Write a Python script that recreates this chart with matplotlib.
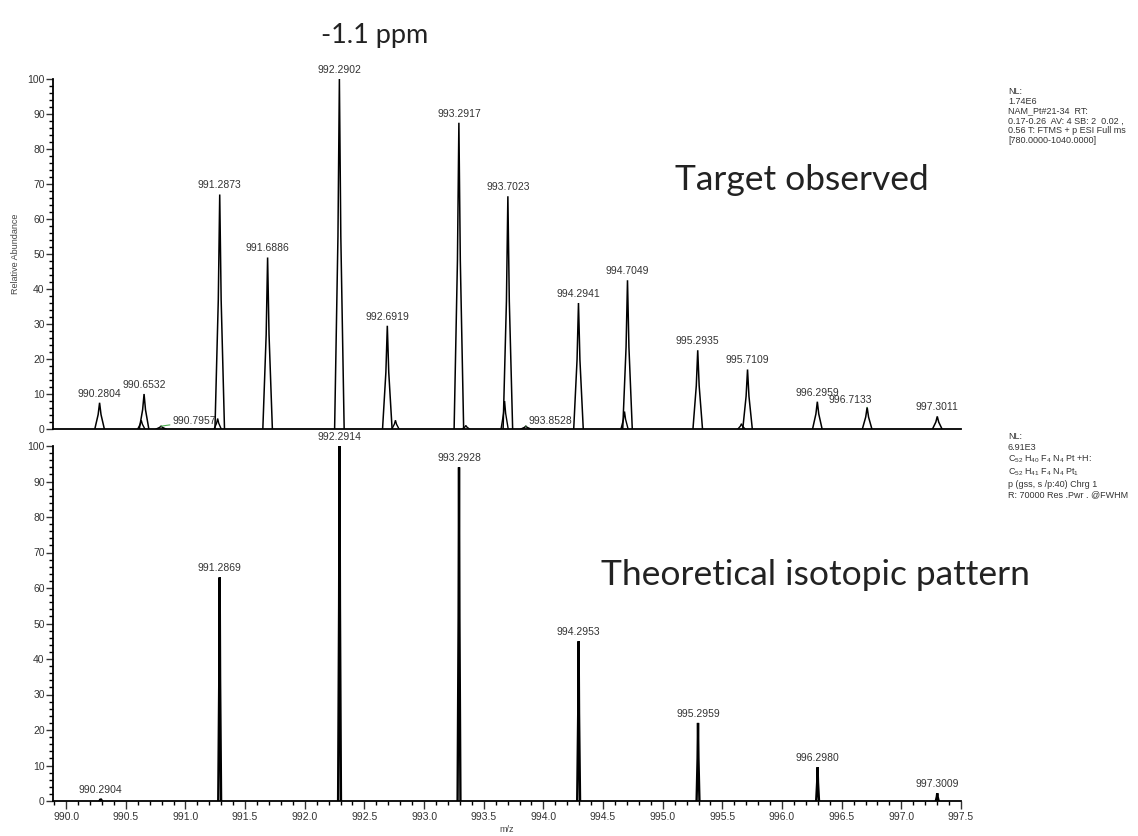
import numpy as np
import matplotlib
matplotlib.use("Agg")
import matplotlib.pyplot as plt
from matplotlib.ticker import MultipleLocator, FormatStrFormatter

plt.rcParams["font.family"] = ["Liberation Sans", "DejaVu Sans"]
plt.rcParams["mathtext.fontset"] = "custom"
plt.rcParams["mathtext.rm"] = "Liberation Sans"

# observed spectrum (labelled centroids)
obs_mz = [990.2804, 990.6532, 990.7957, 991.2873, 991.6886, 992.2902, 992.6919,
          993.2917, 993.7023, 993.8528, 994.2941, 994.7049, 995.2935, 995.7109,
          996.2959, 996.7133, 997.3011]
obs_int = [7.5, 10, 0.8, 67, 49, 100, 29.5, 87.5, 66.5, 0.8, 36, 42.5, 22.5, 17,
           7.8, 6.2, 3.6]
# unlabelled shoulders / small bumps in the observed trace
obs_minor_mz = [990.63, 991.27, 992.76, 993.35, 993.675, 994.68, 995.66]
obs_minor_int = [2.5, 3, 2.5, 1, 8, 5, 1.5]

# theoretical isotopic pattern
th_mz = [990.2904, 991.2869, 992.2914, 993.2928, 994.2953, 995.2959, 996.2980, 997.3009]
th_int = [0.6, 63, 100, 94, 45, 22, 9.5, 2.2]

top_note = ["NL:", "1.74E6", "NAM_Pt#21-34  RT:", "0.17-0.26  AV: 4 SB: 2  0.02 ,",
            "0.56 T: FTMS + p ESI Full ms", "[780.0000-1040.0000]"]
bot_note = ["NL:", "6.91E3",
            r"C$_{52}$ H$_{40}$ F$_{4}$ N$_{4}$ Pt +H:",
            r"C$_{52}$ H$_{41}$ F$_{4}$ N$_{4}$ Pt$_{1}$",
            "p (gss, s /p:40) Chrg 1",
            "R: 70000 Res .Pwr . @FWHM"]

# label nudges (points) for crowded tiny peaks, drawn with a green leader
nudge = {990.7957: (24, 0), 993.8528: (18, 0), 996.7133: (-12, 2)}

W, H = 1138, 836
fig = plt.figure(figsize=(W / 100, H / 100), dpi=100)
left, width = 53 / W, 908 / W
ax1 = fig.add_axes([left, 1 - 429 / H, width, 350 / H])
ax2 = fig.add_axes([left, 1 - 801 / H, width, 355 / H])


def peak(ax, m, h, hw, lw):
    ax.plot([m - hw, m - hw * 0.3, m, m + hw * 0.3, m + hw], [0, h * 0.55, h, h * 0.55, 0],
            color="black", lw=lw, solid_joinstyle="miter")


for m, h in zip(obs_minor_mz, obs_minor_int):
    peak(ax1, m, h, 0.03, 1.0)
for m, h in zip(obs_mz, obs_int):
    peak(ax1, m, h, 0.04, 1.1)
    if m in nudge:
        ax1.annotate(f"{m:.4f}", (m, h), xytext=nudge[m], textcoords="offset points",
                     ha="center", va="bottom", fontsize=7.5, color="#333333",
                     arrowprops=dict(arrowstyle="-", color="#4caf50", lw=0.8,
                                     shrinkA=0, shrinkB=0))
    else:
        ax1.annotate(f"{m:.4f}", (m, h), xytext=(0, 3), textcoords="offset points",
                     ha="center", va="bottom", fontsize=7.5, color="#333333")

for m, h in zip(th_mz, th_int):
    peak(ax2, m, h, 0.012, 1.7)
    ax2.annotate(f"{m:.4f}", (m, h), xytext=(0, 3), textcoords="offset points",
                 ha="center", va="bottom", fontsize=7.5, color="#333333")

for ax in (ax1, ax2):
    ax.set_xlim(989.89, 997.5)
    ax.set_ylim(0, 100)
    for s in ("top", "right"):
        ax.spines[s].set_visible(False)
    for s in ("left", "bottom"):
        ax.spines[s].set_linewidth(1.3)
    ax.yaxis.set_major_locator(MultipleLocator(10))
    ax.yaxis.set_minor_locator(MultipleLocator(2))
    ax.tick_params(axis="y", which="major", length=5, width=1, labelsize=7.5,
                   pad=1, colors="#333333")
    ax.tick_params(axis="y", which="minor", length=3, width=1)
    ax.patch.set_alpha(0)

ax1.tick_params(axis="x", which="both", bottom=False, labelbottom=False)
ax2.xaxis.set_major_locator(MultipleLocator(0.5))
ax2.xaxis.set_minor_locator(MultipleLocator(0.1))
ax2.xaxis.set_major_formatter(FormatStrFormatter("%.1f"))
ax2.tick_params(axis="x", which="major", length=6, width=1, labelsize=7.5, pad=2,
                colors="#333333")
ax2.tick_params(axis="x", which="minor", length=3, width=1)

ax1.set_ylabel("Relative Abundance", fontsize=6.5, color="#444444", labelpad=5)
ax2.set_xlabel("m/z", fontsize=6.5, color="#444444", labelpad=2)

fig.text(375 / W, 1 - 35 / H, "-1.1 ppm", fontsize=19.5, family="Lato",
         ha="center", va="center", color="#222222")
fig.text(802 / W, 1 - 180 / H, "Target observed", fontsize=25.5, family="Lato",
         ha="center", va="center", color="#222222")
fig.text(815 / W, 1 - 575 / H, "Theoretical isotopic pattern", fontsize=25.5, family="Lato",
         ha="center", va="center", color="#222222")

fig.text(1008 / W, 1 - 87 / H, "\n".join(top_note), fontsize=6.5, ha="left", va="top",
         color="#333333", linespacing=1.12)
fig.text(1008 / W, 1 - 432 / H, "\n".join(bot_note), fontsize=6.5, ha="left", va="top",
         color="#333333", linespacing=1.22)

fig.savefig("out.png", dpi=100)
